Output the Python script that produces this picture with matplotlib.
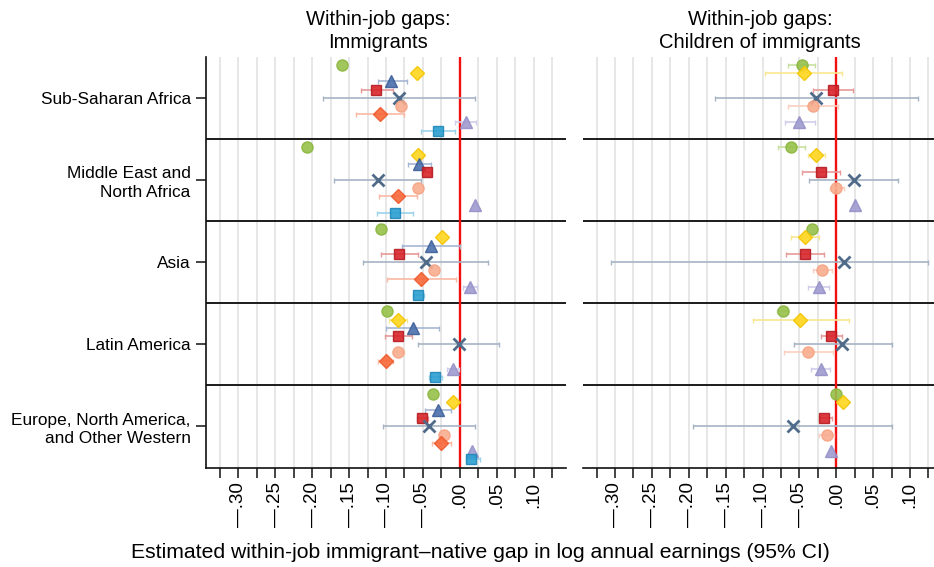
import numpy as np
import matplotlib
matplotlib.use("Agg")
import matplotlib.pyplot as plt

nan = np.nan

# ---------------- data ----------------
regions = ["Sub-Saharan Africa", "Middle East and\nNorth Africa", "Asia",
           "Latin America", "Europe, North America,\nand Other Western"]
panel_titles = ["Within-job gaps:\nImmigrants", "Within-job gaps:\nChildren of immigrants"]
xtick_vals = [-0.30, -0.25, -0.20, -0.15, -0.10, -0.05, 0.00, 0.05, 0.10]
xtick_labels = ["\u2014.30", "\u2014.25", "\u2014.20", "\u2014.15",
                "\u2014.10", "\u2014.05", ".00", ".05", ".10"]
xlabel = "Estimated within-job immigrant\u2013native gap in log annual earnings (95% CI)"

# Panel 1: immigrants (9 specifications, one value per region)
imm_green_est = [-0.160, -0.207, -0.107, -0.098, -0.036]
imm_green_lo = [nan, nan, nan, nan, nan]
imm_green_hi = [nan, nan, nan, nan, nan]
imm_yellow_est = [-0.058, -0.056, -0.024, -0.084, -0.009]
imm_yellow_lo = [nan, nan, nan, -0.096, nan]
imm_yellow_hi = [nan, nan, nan, -0.071, nan]
imm_blue_est = [-0.093, -0.055, -0.039, -0.064, -0.030]
imm_blue_lo = [-0.111, -0.070, -0.078, -0.100, -0.047]
imm_blue_hi = [-0.071, -0.039, 0.000, -0.028, -0.012]
imm_red_est = [-0.113, -0.045, -0.083, -0.084, -0.051]
imm_red_lo = [-0.134, -0.051, -0.107, -0.102, -0.058]
imm_red_hi = [-0.091, -0.039, -0.057, -0.065, -0.043]
imm_cross_est = [-0.083, -0.111, -0.046, -0.001, -0.042]
imm_cross_lo = [-0.186, -0.170, -0.131, -0.056, -0.104]
imm_cross_hi = [0.020, -0.052, 0.038, 0.053, 0.020]
imm_salmon_est = [-0.079, -0.057, -0.035, -0.084, -0.021]
imm_salmon_lo = [nan, nan, nan, -0.091, nan]
imm_salmon_hi = [nan, nan, nan, -0.075, nan]
imm_orange_est = [-0.108, -0.084, -0.053, -0.100, -0.025]
imm_orange_lo = [-0.141, -0.109, -0.099, -0.111, -0.037]
imm_orange_hi = [-0.075, -0.058, -0.005, -0.090, -0.012]
imm_purple_est = [0.008, 0.020, 0.014, -0.009, 0.017]
imm_purple_lo = [-0.007, nan, 0.005, -0.017, nan]
imm_purple_hi = [0.022, nan, 0.024, -0.001, nan]
imm_teal_est = [-0.030, -0.088, -0.057, -0.033, 0.015]
imm_teal_lo = [-0.053, -0.112, -0.064, -0.042, 0.008]
imm_teal_hi = [-0.006, -0.064, -0.048, -0.024, 0.028]

# Panel 2: children of immigrants (6 specifications)
ch_green_est = [-0.047, -0.061, -0.033, -0.072, -0.001]
ch_green_lo = [-0.066, -0.079, nan, -0.080, nan]
ch_green_hi = [-0.029, -0.043, nan, -0.065, nan]
ch_yellow_est = [-0.044, -0.027, -0.042, -0.049, 0.009]
ch_yellow_lo = [-0.096, -0.039, -0.062, -0.113, nan]
ch_yellow_hi = [0.008, -0.015, -0.023, 0.017, nan]
ch_red_est = [-0.004, -0.021, -0.042, -0.007, -0.016]
ch_red_lo = [-0.032, -0.046, -0.068, -0.021, -0.024]
ch_red_hi = [0.023, 0.005, -0.016, 0.008, -0.006]
ch_cross_est = [-0.027, 0.024, 0.010, 0.008, -0.058]
ch_cross_lo = [-0.165, -0.037, -0.306, -0.057, -0.194]
ch_cross_hi = [0.111, 0.084, 0.125, 0.076, 0.076]
ch_salmon_est = [-0.032, 0.000, -0.019, -0.038, -0.012]
ch_salmon_lo = [-0.066, -0.009, -0.031, -0.071, -0.023]
ch_salmon_hi = [0.002, 0.010, -0.006, -0.004, -0.003]
ch_purple_est = [-0.050, 0.025, -0.024, -0.021, -0.007]
ch_purple_lo = [-0.070, nan, -0.038, -0.034, nan]
ch_purple_hi = [-0.029, nan, -0.010, -0.008, nan]

# ---------------- styles ----------------
# slot, marker, size, face, edge, ci colour
styles = {
    "green":  (0, "o", 8.0, "#97c14a", "#8ab63e", "#c8e0a0"),
    "yellow": (1, "D", 7.3, "#ffd61f", "#f2c500", "#f9e690"),
    "blue":   (2, "^", 9.0, "#4b70ad", "#3d5f98", "#a6b7d4"),
    "red":    (3, "s", 7.9, "#d7242a", "#b51c21", "#e8999a"),
    "cross":  (4, "x", 8.0, "#4f6b89", "#4f6b89", "#a6b4c4"),
    "salmon": (5, "o", 8.0, "#f9ad8e", "#f6a283", "#fbd0c0"),
    "orange": (6, "D", 7.3, "#f8683a", "#ee5a2c", "#fbb9a3"),
    "purple": (7, "^", 9.0, "#9f9bd0", "#9590c8", "#cfcdea"),
    "teal":   (8, "s", 7.9, "#2a9fd0", "#1f87b7", "#9bd3ec"),
}

panel1 = {
    "green": (imm_green_est, imm_green_lo, imm_green_hi),
    "yellow": (imm_yellow_est, imm_yellow_lo, imm_yellow_hi),
    "blue": (imm_blue_est, imm_blue_lo, imm_blue_hi),
    "red": (imm_red_est, imm_red_lo, imm_red_hi),
    "cross": (imm_cross_est, imm_cross_lo, imm_cross_hi),
    "salmon": (imm_salmon_est, imm_salmon_lo, imm_salmon_hi),
    "orange": (imm_orange_est, imm_orange_lo, imm_orange_hi),
    "purple": (imm_purple_est, imm_purple_lo, imm_purple_hi),
    "teal": (imm_teal_est, imm_teal_lo, imm_teal_hi),
}
panel2 = {
    "green": (ch_green_est, ch_green_lo, ch_green_hi),
    "yellow": (ch_yellow_est, ch_yellow_lo, ch_yellow_hi),
    "red": (ch_red_est, ch_red_lo, ch_red_hi),
    "cross": (ch_cross_est, ch_cross_lo, ch_cross_hi),
    "salmon": (ch_salmon_est, ch_salmon_lo, ch_salmon_hi),
    "purple": (ch_purple_est, ch_purple_lo, ch_purple_hi),
}

plt.rcParams["font.family"] = ["Liberation Sans", "DejaVu Sans"]

W, H = 934, 567
fig = plt.figure(figsize=(W / 100, H / 100), dpi=100)

top_px, bot_px = 56.75, 467.5
ax_w = 360
xlim = (-0.344, 0.144)
lefts = [206, 582.5]
title_x = [378, 760]

n_groups = len(regions)
group_h = 10

for p, (data, lx) in enumerate(zip([panel1, panel2], lefts)):
    ax = fig.add_axes([lx / W, 1 - bot_px / H, ax_w / W, (bot_px - top_px) / H])
    ax.set_xlim(*xlim)
    ax.set_ylim(n_groups * group_h, 0)

    # vertical grid
    minor = np.arange(-0.325, 0.126, 0.025)
    for v in minor:
        ax.axvline(v, color="#e3e3e3", lw=1.2, zorder=0)
    # group separators
    for g in range(1, n_groups):
        ax.axhline(g * group_h, color="#1a1a1a", lw=1.4, zorder=1)
    # zero line
    ax.axvline(0, color="#f01010", lw=1.7, zorder=2)

    for name, (est, lo, hi) in data.items():
        slot, mk, ms, fc, ec, cc = styles[name]
        est = np.asarray(est, float)
        lo = np.asarray(lo, float)
        hi = np.asarray(hi, float)
        ys = np.arange(n_groups) * group_h + slot + 1
        ok = ~np.isnan(lo)
        if ok.any():
            ax.errorbar(est[ok], ys[ok], xerr=[est[ok] - lo[ok], hi[ok] - est[ok]],
                        fmt="none", ecolor=cc, elinewidth=1.2, capsize=1.8,
                        capthick=1.0, zorder=3)
        if mk == "x":
            ax.plot(est, ys, linestyle="none", marker="x", ms=ms, mew=2.0,
                    color=fc, zorder=4)
        else:
            ax.plot(est, ys, linestyle="none", marker=mk, ms=ms, mfc=fc, mec=ec,
                    mew=1.0, alpha=0.9, zorder=4)

    # axes styling
    for s in ["top", "right"]:
        ax.spines[s].set_visible(False)
    ax.spines["bottom"].set_linewidth(1.2)
    ax.spines["bottom"].set_color("#111111")
    ticks_all = np.round(np.arange(-0.325, 0.126, 0.025), 3)
    lab_map = {round(v, 3): l for v, l in zip(xtick_vals, xtick_labels)}
    ax.set_xticks(ticks_all)
    ax.set_xticklabels([lab_map.get(round(v, 3), "") for v in ticks_all],
                       rotation=90, fontsize=13.5)
    ax.tick_params(axis="x", length=7.5, width=1.1, color="#111111", pad=3)
    if p == 0:
        ax.spines["left"].set_linewidth(1.2)
        ax.spines["left"].set_color("#111111")
        ax.set_yticks(np.arange(n_groups) * group_h + group_h / 2)
        ax.set_yticklabels(regions, fontsize=12.4, linespacing=1.28)
        ax.tick_params(axis="y", length=7, width=1.1, color="#111111", pad=4)
    else:
        ax.spines["left"].set_visible(False)
        ax.set_yticks([])
    fig.text(title_x[p] / W, 1 - 31 / H, panel_titles[p], ha="center", va="center",
             fontsize=14.5, linespacing=1.27)

fig.text(480 / W, 1 - 553 / H, xlabel, ha="center", va="center", fontsize=15.2,
         family=["Liberation Sans Narrow", "Liberation Sans", "DejaVu Sans"])

fig.savefig("out.png", dpi=100)
